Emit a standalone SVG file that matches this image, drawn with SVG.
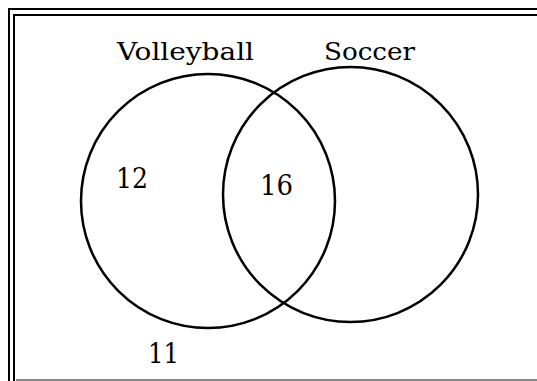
<svg xmlns="http://www.w3.org/2000/svg" width="537" height="381" viewBox="0 0 537 381">
<style>
.b{stroke:#000;stroke-width:2;fill:none}
.c{stroke:#000;stroke-width:2.5;fill:none}
.t{font-family:"DejaVu Serif","Liberation Serif",serif;font-size:25px;fill:#000}
.n{font-size:27px}
</style>
<rect width="537" height="381" fill="#fff"/>
<g id="frame">
<path class="b" d="M9,381 V9 H537"/>
<path class="b" d="M14,381 V15 H537"/>
<path d="M16,380 H537" stroke="#888" stroke-width="2" fill="none"/>
</g>
<g id="volleyball">
<circle class="c" cx="208" cy="201" r="127"/>
<text class="t" x="117" y="60" textLength="137" lengthAdjust="spacingAndGlyphs">Volleyball</text>
</g>
<g id="soccer">
<circle class="c" cx="350.5" cy="194.5" r="127.5"/>
<text class="t" x="324" y="60" textLength="91" lengthAdjust="spacingAndGlyphs">Soccer</text>
</g>
<g id="only-volleyball"><text class="t n" x="116" y="188" textLength="32" lengthAdjust="spacingAndGlyphs">12</text></g>
<g id="both"><text class="t n" x="260" y="195" textLength="33" lengthAdjust="spacingAndGlyphs">16</text></g>
<g id="neither"><text class="t n" x="148" y="363" textLength="31" lengthAdjust="spacingAndGlyphs">11</text></g>
<g id="connectors"></g>
</svg>
